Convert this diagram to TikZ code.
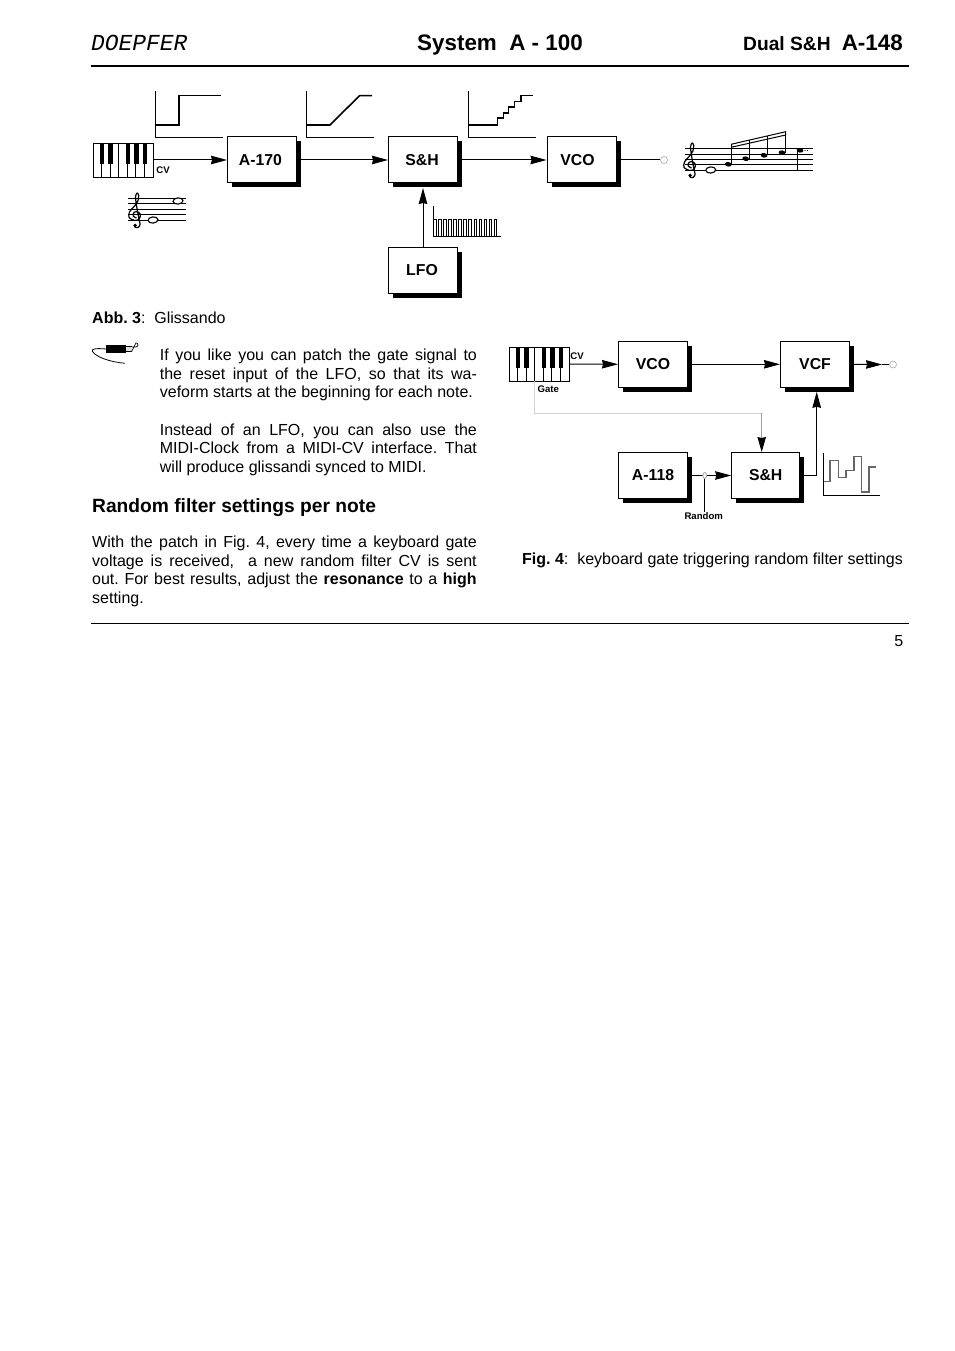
\documentclass[tikz,border=0pt]{standalone}
\usepackage{xcolor}
\usepackage{fontspec}
\setmainfont{Liberation Sans}
\newfontfamily\logofont[ItalicFont={Liberation Mono Italic}]{Liberation Mono}
\usetikzlibrary{arrows.meta,shadows}

\tikzset{
  keyboard/.pic={
    \node[draw, line width=0.9pt, minimum width=60pt, minimum height=33.5pt,
      inner sep=0pt, anchor=north west] (-body) at (0,0) {};
    \foreach \k in {1,...,6} \draw[line width=0.7pt] (8.57*\k,0) -- (8.57*\k,33.5);
    \foreach \k in {6.7,15.5,32.7,41.0,49.7} \fill (\k,0) rectangle ++(4.8,20.6);
  },
  clef/.pic={
    \draw[line width=1.2pt, line join=round] plot[smooth] coordinates {
      (1,3) (-2.4,1) (-1.5,-2.6) (2,-3.2) (5,-0.4) (3.4,4.4) (-1,5.4) (-6.4,2.6)
      (-6,-3) (-1,-9) (2.4,-14) (3.2,-19.5) (1.6,-22) (0,-18) (1.4,-7) (3.4,4) (4.6,9.5) (2.4,12.6) (-0.6,12) (-1,10)};
    \fill (-0.4,10.4) circle (1.8);
  }
}

\begin{document}
\frenchspacing
\begin{tikzpicture}[x=1pt, y=-1pt,
  modbox/.style={draw, line width=1pt, fill=white, minimum width=69pt, minimum height=46pt,
    inner sep=0pt, font=\fontsize{15.8}{18}\selectfont\bfseries,
    general shadow={fill=black, shadow xshift=4.5pt, shadow yshift=-4.5pt}},
  sigar/.style={-{Stealth[length=16pt, width=8.5pt, inset=1pt]}, line width=1pt},
  wireline/.style={line width=1pt},
  axisline/.style={line width=0.9pt},
  traceline/.style={line width=1.6pt, line join=miter},
  jacknode/.style={circle, draw=gray!70, line width=0.6pt, fill=white, minimum size=7pt, inner sep=0pt},
  staffline/.style={line width=0.9pt},
  bodytxt/.style={anchor=north west, inner sep=0pt, align=justify,
    font=\fontsize{16}{18.55}\selectfont},
  oneline/.style={anchor=base west, inner sep=0pt, font=\fontsize{16}{18.55}\selectfont},
  tinylabel/.style={anchor=center, inner sep=0pt, font=\fontsize{9.6}{11}\selectfont\bfseries},
]
\path[use as bounding box, fill=white] (0,0) rectangle (954,1351);

% ── Page header ──────────────────────────────────────────────────────────────
\node[anchor=base west, inner sep=0pt, font=\fontsize{22.9}{26}\logofont\itshape] (logo) at (91,51) {DOEPFER};
\node[anchor=base west, inner sep=0pt, font=\fontsize{22.4}{26}\selectfont\bfseries] (systitle) at (417,51) {System\ \ A - 100};
\node[anchor=base west, inner sep=0pt, font=\fontsize{19.2}{22}\selectfont\bfseries] (modname) at (743,51) {Dual S\&H};
\node[anchor=base east, inner sep=0pt, font=\fontsize{22.4}{26}\selectfont\bfseries] (modnum) at (903,51) {A-148};
\draw[line width=1.7pt] (91,66) -- (909,66);

% ── Abb. 3 patch ─────────────────────────────────────────────────────────────
\pic (kbda) at (92.8,143.2) {keyboard};
\node[modbox] (aone) at (262,160) {A-170\kern3pt};
\node[modbox] (shone) at (423,160) {S\&H\kern2pt};
\node[modbox] (vcoone) at (581.5,160) {VCO\kern8pt};
\node[modbox] (lfoone) at (423,270) {LFO\kern2pt};
\node[jacknode] (outone) at (664,160) {};
\node[tinylabel] (cvone) at (163,169.7) {CV};

\draw[sigar] (kbda-body.east |- aone) -- (aone);
\draw[sigar] (aone) -- (shone);
\draw[sigar] (shone) -- (vcoone);
\draw[wireline] (vcoone) -- (outone);
\draw[sigar, shorten >=4.5pt] (lfoone) -- (shone);

% ── Waveforms ────────────────────────────────────────────────────────────────
\draw[axisline] (155.5,91) -- (155.5,137) -- (223,137);
\draw[traceline] (155.5,125) -- (179,125) -- (179,95.7) -- (221,95.7);
\draw[axisline] (306.5,91) -- (306.5,137) -- (374,137);
\draw[traceline] (306.5,125) -- (330,125) -- (359.5,95.7) -- (372,95.7);
\draw[axisline] (468.5,91) -- (468.5,137) -- (536,137);
\draw[traceline] (468.5,125) -- (497.3,125) -- (497.3,118.3) -- (503.3,118.3) -- (503.3,113.3) -- (508.3,113.3)
  -- (508.3,107.3) -- (514.3,107.3) -- (514.3,101.7) -- (521,101.7) -- (521,95.7) -- (532.7,95.7);
\draw[line width=0.8pt] (433.5,206) -- (433.5,236.7) -- (501,236.7);
\foreach \p in {0,...,12}
  \draw[line width=0.8pt] (433.5+5.05*\p,236.7) -- (433.5+5.05*\p,219.5) -- (436.1+5.05*\p,219.5) -- (436.1+5.05*\p,236.7);

% ── Staves ───────────────────────────────────────────────────────────────────
\foreach \y in {198.3,203.8,209.3,214.9,220.4} \draw[staffline] (127.7,\y) -- (185.7,\y);
\pic at (135.5,215) {clef};
\draw[line width=1.1pt, fill=white, rotate around={5:(178,201)}] (178,201) ellipse [x radius=5, y radius=3.1];
\draw[line width=1.1pt, fill=white, rotate around={5:(153,220)}] (153,220) ellipse [x radius=5, y radius=3.1];

\foreach \y in {148.7,154,159.2,164.6,170.3} \draw[staffline] (685,\y) -- (813.3,\y);
\pic at (690.5,165) {clef};
\draw[line width=1.1pt, fill=white, rotate around={5:(710.7,170)}] (710.7,170) ellipse [x radius=5, y radius=3.1];
\foreach \x/\y/\t in {728.3/164.3/144.2,745.7/158.7/140.3,764/155.3/136.2,782/152.7/132.2} {
  \fill[rotate around={-10:(\x,\y)}] (\x,\y) ellipse [x radius=3.4, y radius=2.3];
  \draw[line width=0.9pt] (\x+3.4,\y) -- (\x+3.4,\t);
}
\fill[rotate around={-10:(800,150.3)}] (800,150.3) ellipse [x radius=3.4, y radius=2.3];
\draw[line width=0.9pt] (797,150.3) -- (797,170.3);
\fill (805,150.4) circle (0.6) (807.5,150.4) circle (0.6);
\draw[line width=1pt] (731.5,144.2) -- (785.7,131.7) -- (785.7,135) -- (731.5,147.2) -- cycle;

% ── Abb. 3 caption and text ──────────────────────────────────────────────────
\node[oneline] (capthree) at (92,323.2) {\textbf{Abb. 3}:\ \ Glissando};

\fill (106,345) rectangle (126,352.6);
\fill[gray!25] (126,346.7) rectangle (132,351);
\draw[line width=0.7pt] (126,346.7) -- (132,346.7) (126,351) -- (132,351);
\draw[line width=0.7pt] (132,346.9) -- (136,346.9) arc[start angle=90, end angle=-90, radius=2] -- (132,350.9);
\draw[line width=0.8pt] (106,349) .. controls (95,348) and (91,349) .. (92.5,351.5)
  .. controls (96,357) and (110,362) .. (125,363.3);

\node[bodytxt, text width=317pt] (parone) at (159.7,349) {If you like you can patch the gate signal to\linebreak
the reset input of the LFO, so that its wa-\linebreak veform starts at the beginning for each note.};
\node[bodytxt, text width=317pt] (partwo) at (159.7,423.4) {Instead of an LFO, you can also use the\linebreak
MIDI-Clock from a MIDI-CV interface. That\linebreak will produce glissandi synced to MIDI.};

\node[anchor=base west, inner sep=0pt, font=\fontsize{19.2}{22}\selectfont\bfseries] (randhead) at (92,512.2) {Random filter settings per note};

\node[bodytxt, text width=384.5pt] (parthree) at (92,535.7) {With the patch in Fig. 4, every time a keyboard gate\linebreak
voltage is received,\ \ a new random filter CV is sent\linebreak
out. For best results, adjust the \textbf{resonance} to a \textbf{high}\linebreak setting.};

% ── Fig. 4 patch ─────────────────────────────────────────────────────────────
\pic (kbdb) at (508.8,347) {keyboard};
\node[modbox] (vcotwo) at (653,364.3) {VCO};
\node[modbox] (vcftwo) at (815,364.3) {VCF};
\node[modbox] (atwo) at (653,475.5) {A-118};
\node[modbox, minimum width=68pt] (shtwo) at (765.7,475.5) {S\&H};
\node[jacknode] (outtwo) at (893,364.5) {};
\coordinate (outtip) at (882,364.5);
\coordinate (gatefoot) at (534.3,381);
\coordinate (gatebend) at (761.7,413.3);
\coordinate (randtap) at (704.7,475.5);
\node[tinylabel] (cvtwo) at (577,356) {CV};
\node[tinylabel] (gatelab) at (548.3,388.7) {Gate};
\node[tinylabel] (randlab) at (703.7,515.7) {Random};

\draw[sigar] (kbdb-body.east) -- (vcotwo);
\draw[sigar] (vcotwo) -- (vcftwo);
\draw[sigar] (vcftwo) -- (outtip);
\draw[wireline] (outtip) -- (outtwo);
\draw[sigar] (atwo) -- (shtwo);
\draw[line width=0.8pt] (randtap) -- (randlab.north -| randtap);
\draw[line width=0.8pt, draw=gray!70, fill=white] (randtap) ellipse [x radius=1.8, y radius=3];
\draw[sigar, shorten >=4pt] (shtwo) -| ([xshift=1.7pt]vcftwo.south);
\draw[line width=0.9pt, gray!35] (gatefoot) |- (gatebend);
\draw[-{Stealth[length=15pt, width=8.5pt, inset=1pt, black]}, line width=0.9pt, gray!75] (gatebend) -- (gatebend |- shtwo.north);

\draw[axisline] (823.7,453) -- (823.7,495.7) -- (880,495.7);
\draw[line width=1.2pt, gray!80!black] (823.7,481.7) -- (830,481.7) -- (830,460.3) -- (838.3,460.3) -- (838.3,477.7)
  -- (846,477.7) -- (846,470.7) -- (854,470.7) -- (854,456.7) -- (861.7,456.7) -- (861.7,492) -- (869,492)
  -- (869,467) -- (876,467);

\node[oneline] (capfour) at (522,564.2) {\textbf{Fig. 4}:\ \ keyboard gate triggering random filter settings};

% ── Page foot ────────────────────────────────────────────────────────────────
\draw[line width=1pt] (91,623.5) -- (909,623.5);
\node[oneline, anchor=base east] (pagenum) at (903.5,646) {5};

\end{tikzpicture}
\end{document}
